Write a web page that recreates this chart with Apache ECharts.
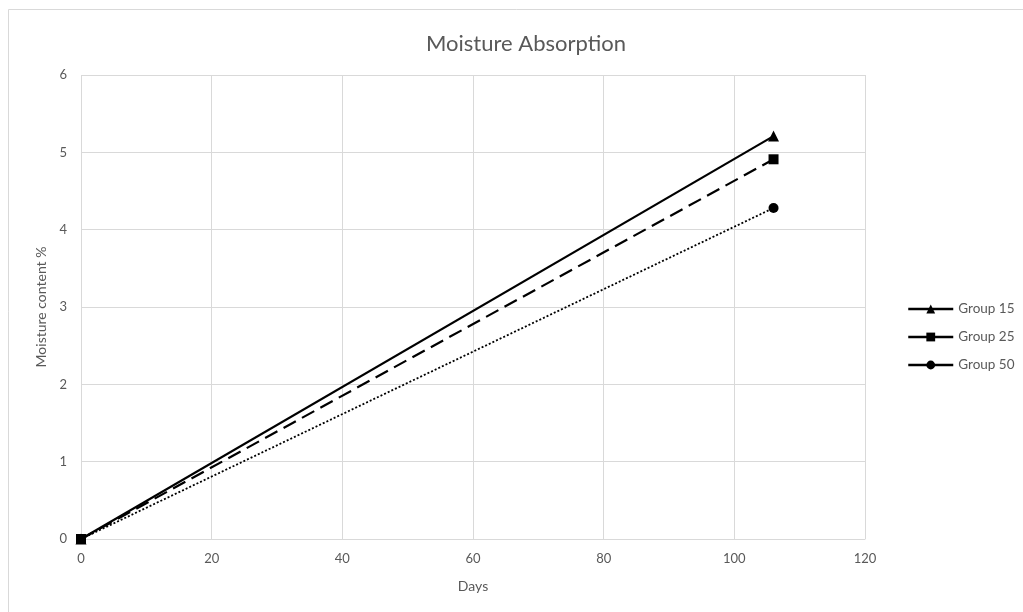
<!DOCTYPE html>
<html>
<head>
<meta charset="utf-8">
<script src="https://cdn.jsdelivr.net/npm/echarts@6/dist/echarts.min.js"></script>
<style>
  html, body { margin: 0; padding: 0; background: #fff; }
  #chart { width: 1023px; height: 612px; }
</style>
</head>
<body>
<div id="chart"></div>
<script>
// Moisture uptake over time for three groups
const days = [0, 106];
const group15 = [0, 5.21];
const group25 = [0, 4.91];
const group50 = [0, 4.28];
const seriesNames = ['Group 15', 'Group 25', 'Group 50'];

const FONT = 'Lato, "Open Sans", sans-serif';
const GREY = '#595959';

const toPairs = (xs, ys) => xs.map((x, i) => [x, ys[i]]);

const chart = echarts.init(document.getElementById('chart'), null, { renderer: 'canvas' });

chart.setOption({
  backgroundColor: '#fff',
  animation: false,
  title: {
    text: 'Moisture Absorption',
    left: 521, top: 28, textAlign: 'center',
    textStyle: { fontFamily: FONT, fontSize: 22, fontWeight: 'normal', color: GREY }
  },
  graphic: [{
    type: 'rect',
    shape: { x: 8.5, y: 9.5, width: 1030, height: 620 },
    style: { fill: 'none', stroke: '#d9d9d9', lineWidth: 1 },
    silent: true
  }],
  legend: {
    orient: 'vertical',
    left: 902, top: 297,
    itemWidth: 45, itemHeight: 11, itemGap: 14,
    textStyle: { fontFamily: FONT, fontSize: 13.5, color: GREY, padding: [0, 0, 0, 0] },
    lineStyle: { type: 'solid', width: 2.5 },
    data: seriesNames
  },
  grid: { left: 81, top: 75, width: 784, height: 464, containLabel: false },
  xAxis: {
    type: 'value', min: 0, max: 120, interval: 20,
    name: 'Days', nameLocation: 'middle', nameGap: 40,
    nameTextStyle: { fontFamily: FONT, fontSize: 14, color: GREY },
    axisLine: { show: true, lineStyle: { color: '#d9d9d9', width: 1 } },
    axisTick: { show: false },
    axisLabel: { fontFamily: FONT, fontSize: 13, color: GREY, margin: 13 },
    splitLine: { show: true, lineStyle: { color: '#d9d9d9', width: 1 } }
  },
  yAxis: {
    type: 'value', min: 0, max: 6, interval: 1,
    name: 'Moisture content %', nameLocation: 'middle', nameGap: 30,
    nameTextStyle: { fontFamily: FONT, fontSize: 14, color: GREY },
    axisLine: { show: false },
    axisTick: { show: false },
    axisLabel: { fontFamily: FONT, fontSize: 13, color: GREY, margin: 14 },
    splitLine: { show: true, lineStyle: { color: '#d9d9d9', width: 1 } }
  },
  series: [
    {
      name: seriesNames[0], type: 'line', data: toPairs(days, group15),
      symbol: 'triangle', symbolSize: 11, showAllSymbol: true,
      lineStyle: { color: '#000', width: 2.2, type: 'solid' },
      itemStyle: { color: '#000' }, z: 3
    },
    {
      name: seriesNames[2], type: 'line', data: toPairs(days, group50),
      symbol: 'circle', symbolSize: 10, showAllSymbol: true,
      lineStyle: { color: '#000', width: 1.8, type: [2, 2] },
      itemStyle: { color: '#000' }, z: 3
    },
    {
      name: seriesNames[1], type: 'line', data: toPairs(days, group25),
      symbol: 'rect', symbolSize: 10, showAllSymbol: true,
      lineStyle: { color: '#000', width: 2.2, type: [14, 7] },
      itemStyle: { color: '#000' }, z: 4
    }
  ]
});
</script>
</body>
</html>
